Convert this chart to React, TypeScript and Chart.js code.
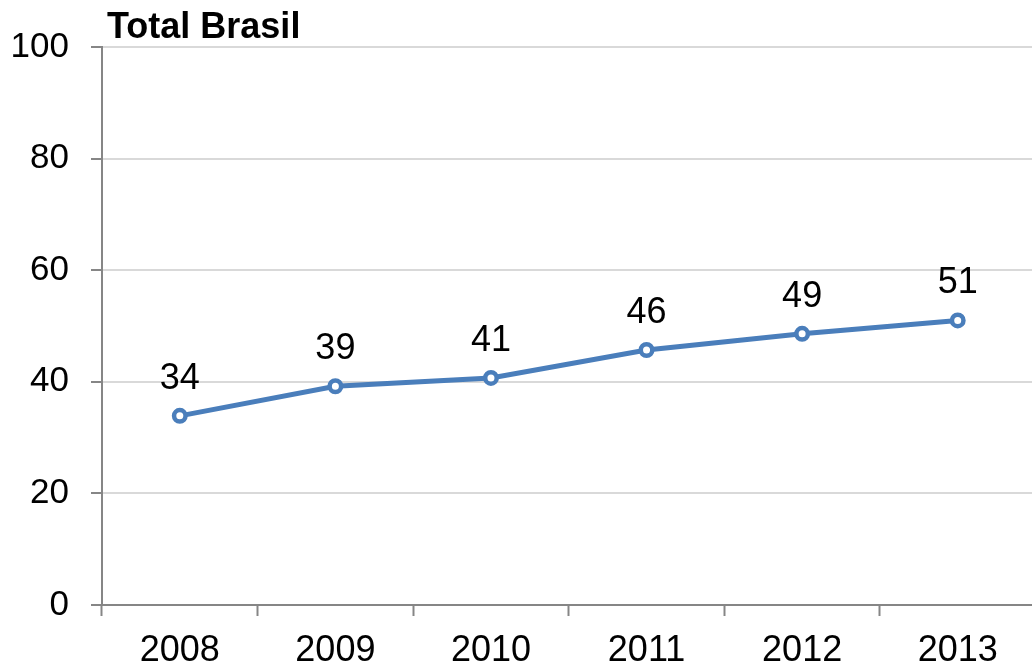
import React, { useEffect, useRef } from "react";
import { Chart, registerables } from "chart.js";

Chart.register(...registerables);

const categories = ["2008", "2009", "2010", "2011", "2012", "2013"];
const values = [33.9, 39.2, 40.7, 45.7, 48.6, 51.0];
const titleText = "Total Brasil";

const FONT = "'Liberation Sans', Arial, sans-serif";
const LINE_COLOR = "#4a7ebb";
const AXIS_COLOR = "#868686";

const titlePlugin = {
  id: "titleText",
  afterDraw(chart: any) {
    const ctx = chart.ctx;
    ctx.save();
    ctx.font = `bold 36px ${FONT}`;
    ctx.fillStyle = "#000";
    ctx.textAlign = "left";
    ctx.textBaseline = "alphabetic";
    ctx.fillText(titleText, 107, 38);
    ctx.restore();
  },
};

const labelPlugin = {
  id: "valueLabels",
  afterDatasetsDraw(chart: any) {
    const ctx = chart.ctx;
    const meta = chart.getDatasetMeta(0);
    ctx.save();
    ctx.font = `36px ${FONT}`;
    ctx.fillStyle = "#000";
    ctx.textAlign = "center";
    ctx.textBaseline = "alphabetic";
    meta.data.forEach((pt: any, i: number) => {
      ctx.fillText(String(Math.round(values[i])), pt.x, pt.y - 27);
    });
    ctx.restore();
  },
};

export default function App() {
  const ref = useRef<HTMLCanvasElement | null>(null);
  useEffect(() => {
    if (!ref.current) return;
    const chart = new Chart(ref.current, {
      type: "line",
      data: {
        labels: categories,
        datasets: [
          {
            data: values,
            borderColor: LINE_COLOR,
            borderWidth: 5,
            backgroundColor: "#ffffff",
            pointBackgroundColor: "#ffffff",
            pointBorderColor: LINE_COLOR,
            pointBorderWidth: 4.5,
            pointRadius: 5.75,
            tension: 0,
          },
        ],
      },
      options: {
        animation: false,
        responsive: false,
        devicePixelRatio: 1,
        layout: {
          autoPadding: false,
          padding: { top: 47, right: 4.5, left: 0, bottom: 0 },
        },
        plugins: {
          legend: { display: false },
          title: { display: false },
          tooltip: { enabled: false },
        },
        scales: {
          x: {
            offset: true,
            afterFit(scale: any) {
              scale.height = 95;
            },
            grid: {
              offset: true,
              drawOnChartArea: false,
              drawTicks: true,
              tickLength: 11,
              tickColor: AXIS_COLOR,
              tickWidth: 2,
            },
            border: { color: AXIS_COLOR, width: 2 },
            ticks: {
              color: "#000",
              font: { family: FONT, size: 36 },
              padding: 13,
              maxRotation: 0,
            },
          },
          y: {
            min: 0,
            max: 100,
            afterFit(scale: any) {
              scale.width = 102;
            },
            grid: {
              color: "#d9d9d9",
              lineWidth: 2,
              tickLength: 11,
              tickColor: AXIS_COLOR,
              tickWidth: 2,
            },
            border: { color: AXIS_COLOR, width: 2 },
            ticks: {
              stepSize: 20,
              color: "#000",
              font: { family: FONT, size: 35 },
              padding: 22,
            },
          },
        },
      },
      plugins: [titlePlugin, labelPlugin],
    });
    return () => chart.destroy();
  }, []);

  return (
    <div
      style={{
        position: "fixed",
        left: 0,
        top: 0,
        width: 1032,
        height: 666,
        overflow: "hidden",
        background: "#fff",
      }}
    >
      <canvas ref={ref} width={1040} height={700} style={{ display: "block" }} />
    </div>
  );
}
